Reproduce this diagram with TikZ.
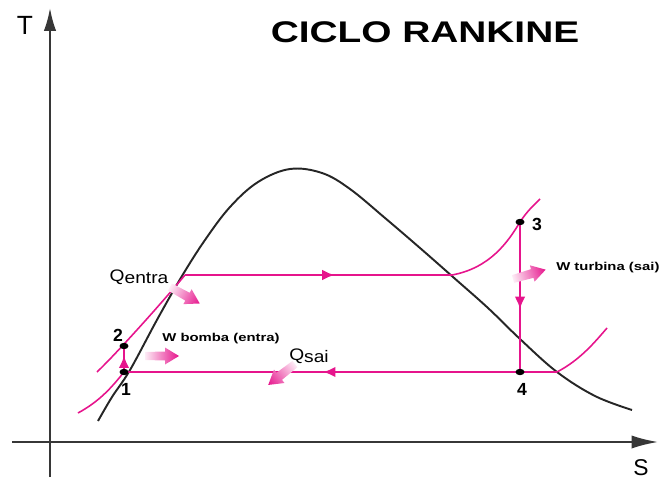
\documentclass[tikz,border=0pt]{standalone}
\usepackage{fontspec}
\setmainfont{Liberation Sans}
\newfontfamily\largo{Liberation Sans}[FakeStretch=1.3]
\newfontfamily\medio{Liberation Sans}[FakeStretch=1.15]
\usetikzlibrary{arrows.meta,decorations.markings}

\definecolor{rosa}{RGB}{230,20,140}
\definecolor{eixo}{RGB}{55,55,55}

\tikzset{
  ciclo/.style={rosa, line width=1.1pt},
  isobara/.style={rosa, line width=0.9pt},
  meio/.style={decoration={markings,
      mark=at position #1 with {\arrow{Latex[length=7pt,width=6pt]}}},
    postaction={decorate}},
  seta/.style={left color=rosa!8, right color=rosa},
  rotulo/.style={inner sep=0pt}
}

\begin{document}
\begin{tikzpicture}[x=0.02cm, y=-0.02cm]
    \useasboundingbox (0,0) rectangle (659,483);

    % Eixos T e S
    \draw[eixo, line width=1.1pt, -{Latex[length=13pt,width=7pt]}] (50,477) -- (50,8);
    \draw[eixo, line width=1.1pt, -{Latex[length=15pt,width=7.5pt]}] (12,442) -- (658,442);
    \node[rotulo] (eixoT) at (25,25) {\fontsize{15}{17}\selectfont T};
    \node[rotulo] (eixoS) at (641,468) {\fontsize{13}{15}\selectfont S};

    % Titulo
    \node[rotulo] (titulo) at (425,32) {\largo\fontsize{17}{20}\selectfont\bfseries CICLO RANKINE};

    % Curva de saturacao
    \draw[black!85, line width=1.1pt] plot[smooth, tension=0.6] coordinates {
        (98,421) (112,397) (130,370) (158,318) (182,276) (205,240) (230,207)
        (258,182) (290,169) (322,173) (350,189) (385,218) (420,248) (453,277)
        (488,308) (520,339) (557,372) (595,396) (632,410)};

    % Pontos do ciclo
    \coordinate (p1) at (124,372);
    \coordinate (p2) at (124,346);
    \coordinate (p3) at (520,222);
    \coordinate (p4) at (520,372);
    \coordinate (ebul) at (185,275);
    \coordinate (vsat) at (452,275);
    \coordinate (cond) at (557,372);

    % Isobaras
    \draw[isobara] (78,413) .. controls (100,401) and (112,387) .. (p1);
    \draw[isobara] (97,372) .. controls (115,355) and (160,305) .. (ebul);
    \draw[isobara] (vsat) .. controls (490,268) and (508,242) .. (p3)
        .. controls (528,210) and (534,205) .. (540,199);
    \draw[isobara] (cond) .. controls (580,360) and (595,342) .. (607,328);

    % Ciclo
    \draw[ciclo, meio=0.63] (p1) -- (p2);
    \draw[ciclo, meio=0.56] (ebul) -- (vsat);
    \draw[ciclo, meio=0.58] (p3) -- (p4);
    \draw[ciclo, meio=0.54] (cond) -- (p1);

    % Marcas dos pontos
    \foreach \p in {p1,p2,p3,p4}
        \fill[black] (\p) ellipse [x radius=4.5, y radius=3.2];

    \node[rotulo] (n1) at (126,389) {\fontsize{10}{12}\selectfont\bfseries 1};
    \node[rotulo] (n2) at (118,335) {\fontsize{10}{12}\selectfont\bfseries 2};
    \node[rotulo] (n3) at (537,224) {\fontsize{10}{12}\selectfont\bfseries 3};
    \node[rotulo] (n4) at (522,389) {\fontsize{10}{12}\selectfont\bfseries 4};

    % Setas de calor e trabalho
    \foreach \x/\y/\ang in {170/287/-29, 145/356/0, 295/364/218, 513/279/16}{
        \begin{scope}[transform canvas={shift={(\x,\y)}, rotate=\ang}]
            \shade[seta] (0,-4) -- (20,-4.5) -- (20,-8.5) -- (34,0)
                -- (20,8.5) -- (20,4.5) -- (0,4) -- cycle;
        \end{scope}
    }

    % Textos
    \node[rotulo] (qentra) at (139,277) {\medio\fontsize{9.5}{11}\selectfont Q\raisebox{-1.5pt}{entra}};
    \node[rotulo] (qsai) at (309,356) {\medio\fontsize{9.5}{11}\selectfont Q\raisebox{-1.5pt}{sai}};
    \node[rotulo] (wbomba) at (221,339) {\largo\fontsize{6.5}{8}\selectfont\bfseries W bomba (entra)};
    \node[rotulo, anchor=west] (wturb) at (556,268) {\largo\fontsize{6.5}{8}\selectfont\bfseries W turbina (sai)};
\end{tikzpicture}
\end{document}
